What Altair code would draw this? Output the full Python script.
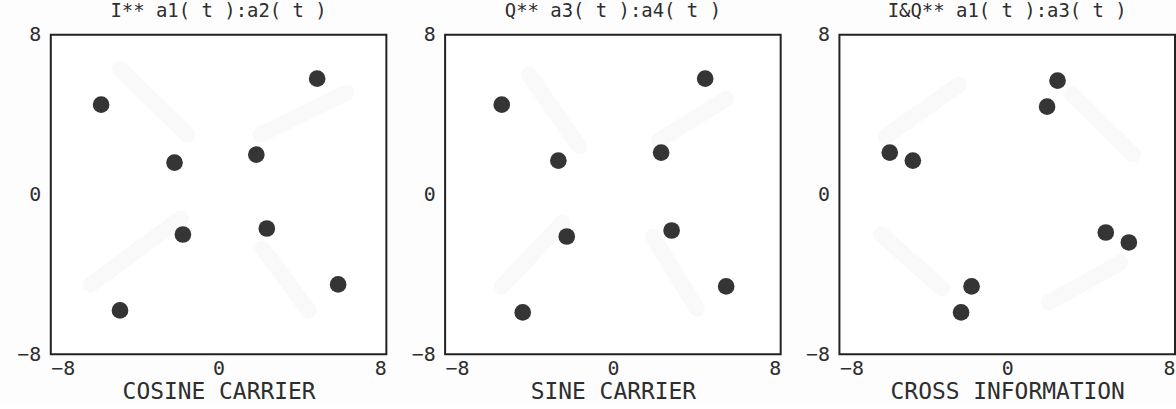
import altair as alt
import pandas as pd

# Constellation points (cluster centres) for each panel
i_x = [-5.6, 4.7, -2.1, 1.8, -1.7, 2.3, -4.7, 5.7]
i_y = [4.5, 5.8, 1.6, 2.0, -2.0, -1.7, -5.8, -4.5]

q_x = [-5.3, 4.4, -2.6, 2.3, -2.2, 2.8, -4.3, 5.4]
q_y = [4.5, 5.8, 1.7, 2.1, -2.1, -1.8, -5.9, -4.6]

iq_x = [-5.6, -4.5, 2.4, 1.9, 4.7, 5.8, -1.7, -2.2]
iq_y = [2.1, 1.7, 5.7, 4.4, -1.9, -2.4, -4.6, -5.9]

# Faint trace bands behind the clusters (start x, start y, end x, end y)
i_band = [(-4.7, 6.3, -1.5, 3.0), (2.0, 3.0, 6.1, 5.1), (-6.1, -4.5, -1.8, -1.2), (2.1, -2.7, 4.3, -5.8)]
q_band = [(-4.0, 6.0, -1.6, 2.4), (2.2, 2.7, 5.4, 4.8), (-5.3, -4.6, -2.4, -1.4), (1.9, -2.1, 4.0, -5.7)]
iq_band = [(-5.8, 2.9, -2.3, 5.5), (3.1, 5.0, 6.0, 2.0), (5.4, -3.4, 2.0, -5.4), (-6.0, -2.0, -3.1, -4.7)]

titles = ["I** a1( t ):a2( t )", "Q** a3( t ):a4( t )", "I&Q** a1( t ):a3( t )"]
x_titles = ["COSINE CARRIER", "SINE CARRIER", "CROSS INFORMATION"]
ticks = [-8, 0, 8]

FONT = "DejaVu Sans Mono"
INK = "#2e2e2e"


def panel(xs, ys, bands, title, xtitle):
    pts = pd.DataFrame({"x": xs, "y": ys})
    bd = pd.DataFrame(bands, columns=["x", "y", "x2", "y2"])
    xsc = alt.Scale(domain=[-8, 8], nice=False, zero=False)
    ysc = alt.Scale(domain=[-8, 8], nice=False, zero=False)
    band_layer = alt.Chart(bd).mark_rule(
        color="#f9f9f9", strokeWidth=16, strokeCap="round"
    ).encode(
        x=alt.X("x:Q", scale=xsc),
        y=alt.Y("y:Q", scale=ysc),
        x2="x2:Q",
        y2="y2:Q",
    )
    dots = alt.Chart(pts).mark_circle(
        size=280, color="#353535", opacity=1
    ).encode(
        x=alt.X("x:Q", scale=xsc,
                axis=alt.Axis(values=ticks, title=xtitle, labelPadding=4)),
        y=alt.Y("y:Q", scale=ysc,
                axis=alt.Axis(values=ticks, title=None, labelPadding=10)),
    )
    return alt.layer(band_layer, dots).properties(
        width=337, height=321,
        title=alt.TitleParams(title, fontSize=19, font=FONT, color=INK,
                              fontWeight="normal", offset=4),
    )


chart = alt.hconcat(
    panel(i_x, i_y, i_band, titles[0], x_titles[0]),
    panel(q_x, q_y, q_band, titles[1], x_titles[1]),
    panel(iq_x, iq_y, iq_band, titles[2], x_titles[2]),
    spacing=22,
).properties(
    padding={"left": 15, "top": 0, "right": 0, "bottom": 0},
    background="#fdfdfd",
).configure_view(
    stroke="#222222", strokeWidth=2, fill="#ffffff"
).configure_axis(
    domain=False, ticks=False, grid=False,
    labelFont=FONT, labelFontSize=20, labelColor=INK,
    titleFont=FONT, titleFontSize=23, titleColor=INK, titleFontWeight="normal",
    titlePadding=2,
)

chart.save("out.html", embed_options={"renderer": "svg", "actions": False})
